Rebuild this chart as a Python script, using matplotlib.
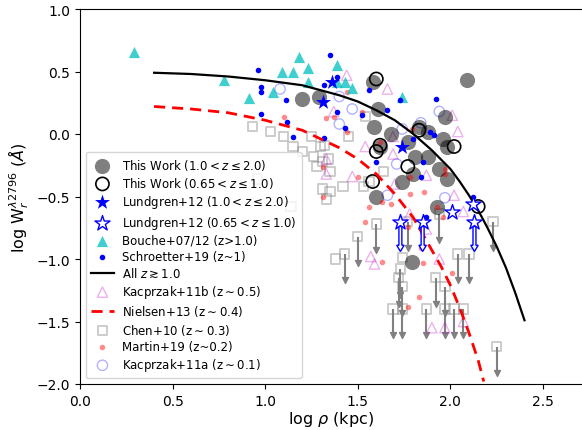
import matplotlib
matplotlib.use("Agg")
from matplotlib import pyplot as plt
import numpy as np

# This work, 1.0 < z <= 2.0 (filled grey circles)
tw_hi_x = [1.20, 1.29, 1.58, 2.09, 1.61, 1.59, 1.68, 1.62, 1.77, 1.83, 1.88, 1.97,
           1.96, 1.98, 1.81, 1.88, 1.94, 1.98, 1.74, 1.80, 1.60, 1.93, 1.79]
tw_hi_y = [0.28, 0.30, 0.42, 0.43, 0.20, 0.06, 0.00, -0.10, -0.06, 0.06, 0.02, 0.14,
           -0.04, -0.10, -0.18, -0.18, -0.28, -0.36, -0.38, -0.32, -0.50, -0.58, -1.02]

# This work, 0.65 < z <= 1.0 (open black circles)
tw_lo_x = [1.60, 1.83, 1.60, 1.62, 1.77, 2.02, 1.58, 2.15]
tw_lo_y = [0.44, 0.03, -0.14, -0.09, -0.26, -0.10, -0.38, -0.58]

# Lundgren+12
lu_hi_x = [1.36, 1.31, 1.74]
lu_hi_y = [0.42, 0.26, -0.10]
lu_lo_x = [1.73, 1.85, 2.01, 2.13, 2.12]
lu_lo_y = [-0.70, -0.70, -0.62, -0.70, -0.56]
lu_lo_uplim = [True, True, False, True, False]

# Bouche+07/12
bo_x = [0.29, 0.78, 0.91, 1.18, 1.39, 1.09, 1.15, 1.23, 1.23, 1.04, 1.39, 1.43, 1.47, 1.74]
bo_y = [0.66, 0.43, 0.29, 0.62, 0.55, 0.50, 0.50, 0.53, 0.42, 0.34, 0.42, 0.42, 0.37, 0.30]

# Schroetter+19
sc_x = [0.96, 0.98, 0.98, 1.11, 1.35, 1.32, 1.39, 1.56, 0.98, 1.12, 1.39, 1.15, 1.32,
        1.43, 1.52, 1.66, 1.73, 1.92, 1.89, 1.91, 1.80, 1.85, 1.84, 1.60, 1.87, 2.12]
sc_y = [0.51, 0.38, 0.34, 0.27, 0.63, 0.39, 0.46, 0.35, 0.16, 0.10, 0.18, -0.02, -0.03,
        0.05, 0.15, 0.19, 0.27, 0.28, 0.02, -0.01, -0.04, -0.22, -0.34, -0.22, -0.66, -0.50]

# Kacprzak+11b
k11b_x = [1.44, 1.66, 2.01, 2.04, 1.54, 1.69, 1.69, 1.87, 1.70, 2.02, 2.07, 1.78, 1.87,
          1.94, 1.57, 1.59, 1.90, 1.97, 2.07, 1.33, 1.33, 1.47, 1.37]
k11b_y = [0.47, 0.36, 0.15, 0.02, -0.10, -0.16, -0.02, -0.33, -0.40, -0.49, -0.62, -0.64, -0.76,
          -1.00, -0.98, -1.04, -1.55, -1.55, -1.50, -0.32, -0.20, -0.34, 0.18]

# Chen+10 detections and upper limits
ch_x = [0.93, 1.03, 1.10, 1.15, 1.20, 1.25, 1.26, 1.30, 1.32, 1.31, 1.34, 1.35, 1.28,
        1.31, 1.35, 1.33, 1.42, 1.45, 1.54, 1.53, 1.56, 1.64, 1.38, 1.74, 0.96, 1.14]
ch_y = [0.06, 0.02, -0.02, -0.10, -0.14, -0.02, -0.18, -0.10, -0.09, -0.22, -0.20, -0.30, -0.26,
        -0.44, -0.46, -0.52, -0.42, -0.02, 0.14, -0.42, -0.38, -0.30, -1.00, -0.99, -0.36, -0.58]
ch_ul_x = [1.60, 1.50, 1.43, 1.77, 1.94, 1.73, 1.72, 1.74, 2.04, 2.10, 1.92, 1.97,
           1.69, 1.74, 1.87, 1.97, 2.02, 2.07, 2.23, 2.25]
ch_ul_y = [-0.72, -0.82, -0.96, -0.70, -0.64, -1.08, -1.15, -1.22, -0.96, -0.96, -1.15, -1.22,
           -1.40, -1.40, -1.40, -1.40, -1.40, -1.40, -0.70, -1.70]

# Martin+19
ma_x = [1.10, 1.33, 1.37, 1.44, 1.44, 1.52, 1.62, 1.79, 1.80, 1.97, 1.97, 1.78, 1.50, 1.31, 1.31,
        1.56, 1.68, 1.63, 1.54, 1.78, 1.86, 1.93, 1.96, 1.77, 1.84, 1.85, 2.01, 1.63, 1.83, 1.77]
ma_y = [0.14, 0.13, 0.14, 0.34, 0.02, 0.18, -0.06, 0.04, -0.04, -0.28, -0.32, -0.34, -0.34, -0.26, -0.50,
        -0.58, -0.56, -0.54, -0.70, -0.48, -0.46, -0.58, -0.66, -0.74, -0.91, -1.03, -1.11, -1.02, -1.30, -1.38]

# Kacprzak+11a
k11a_x = [1.08, 1.40, 1.47, 1.40, 1.74, 1.84, 1.94, 1.71, 1.66, 1.97]
k11a_y = [0.36, 0.30, 0.20, 0.08, 0.04, 0.09, 0.18, -0.24, -0.49, -0.51]

# fitted relations
all_x = [0.40, 0.60, 0.80, 1.00, 1.20, 1.40, 1.50, 1.60, 1.70, 1.80, 1.90, 2.00,
         2.05, 2.10, 2.15, 2.20, 2.25, 2.30, 2.35, 2.40]
all_y = [0.49, 0.48, 0.46, 0.43, 0.39, 0.31, 0.26, 0.19, 0.11, 0.00, -0.13, -0.28,
         -0.38, -0.49, -0.61, -0.75, -0.90, -1.07, -1.27, -1.49]
ni_x = [0.40, 0.60, 0.80, 1.00, 1.20, 1.30, 1.40, 1.50, 1.60, 1.70, 1.80, 1.90,
        1.95, 2.00, 2.05, 2.10, 2.15, 2.18]
ni_y = [0.22, 0.20, 0.17, 0.11, 0.03, -0.04, -0.11, -0.20, -0.32, -0.48, -0.67, -0.93,
        -1.06, -1.21, -1.39, -1.59, -1.81, -1.98]

ul_len = 0.21

fig = plt.figure(figsize=(5.82, 4.31), dpi=100)
ax = fig.add_axes([80 / 582, 46 / 431, 503 / 582, 375 / 431])

# background samples
ch_ul_x = np.array(ch_ul_x)
ch_ul_y = np.array(ch_ul_y)
ax.vlines(ch_ul_x, ch_ul_y, ch_ul_y - ul_len, color='gray', lw=1.5, zorder=1)
ax.scatter(ch_ul_x, ch_ul_y - ul_len, marker='v', s=18, color='gray', zorder=1)
h_ch = ax.scatter(np.concatenate([ch_x, ch_ul_x]), np.concatenate([ch_y, ch_ul_y]),
                  marker='s', s=45, facecolors='none', edgecolors='gray', alpha=0.4,
                  linewidths=1.4, zorder=1, label=r'Chen+10 (z$\sim$0.3)')
h_k11a = ax.scatter(k11a_x, k11a_y, marker='o', s=55, facecolors='none', edgecolors='b',
                    alpha=0.3, linewidths=1.0, zorder=2, label=r'Kacprzak+11a (z$\sim$0.1)')
h_k11b = ax.scatter(k11b_x, k11b_y, marker='^', s=55, facecolors='none', edgecolors='m',
                    alpha=0.3, linewidths=1.0, zorder=2, label=r'Kacprzak+11b (z$\sim$0.5)')
h_ma = ax.scatter(ma_x, ma_y, marker='o', s=16, color='r', alpha=0.45, linewidths=0,
                  zorder=3, label='Martin+19 (z~0.2)')

# this work
h_twh = ax.scatter(tw_hi_x, tw_hi_y, marker='o', s=120, color='k', alpha=0.5, linewidths=0,
                   zorder=2, label=r'This Work (1.0$<z\leq$2.0)')
h_twl = ax.scatter(tw_lo_x, tw_lo_y, marker='o', s=90, facecolors='none', edgecolors='k',
                   linewidths=1.2, zorder=4, label=r'This Work (0.65$<z\leq$1.0)')

h_bo = ax.scatter(bo_x, bo_y, marker='^', s=65, color='c', alpha=0.75, linewidths=0,
                  zorder=4, label='Bouche+07/12 (z>1.0)')
h_sc = ax.scatter(sc_x, sc_y, marker='o', s=16, color='b', linewidths=0, zorder=5,
                  label='Schroetter+19 (z~1)')

# fits
h_all, = ax.plot(all_x, all_y, color='k', lw=1.6, zorder=5, label=r'All $z\gtrsim$1.0')
h_ni, = ax.plot(ni_x, ni_y, color='r', lw=2, ls=(0, (4, 2.5)), zorder=5,
                label=r'Nielsen+13 (z$\sim$0.4)')

# Lundgren+12
for x, y, lim in zip(lu_lo_x, lu_lo_y, lu_lo_uplim):
    if lim:
        ax.arrow(x, y - 0.04, 0, -0.2, width=0.016, head_width=0.04, head_length=0.05,
                 length_includes_head=True, fc='w', ec='b', lw=1.0, zorder=6)
h_luh = ax.scatter(lu_hi_x, lu_hi_y, marker='*', s=130, color='b', linewidths=0, zorder=7,
                   label=r'Lundgren+12 (1.0$<z\leq$2.0)')
h_lul = ax.scatter(lu_lo_x, lu_lo_y, marker='*', s=130, facecolors='w', edgecolors='b',
                   linewidths=1.0, zorder=7, label=r'Lundgren+12 (0.65$<z\leq$1.0)')

ax.set_xlim(0, 2.716)
ax.set_ylim(-2.0, 1.0)
ax.set_xticks(np.arange(0, 2.51, 0.5))
ax.set_yticks(np.arange(-2.0, 1.01, 0.5))
ax.tick_params(labelsize=10)
ax.set_xlabel(r'log $\rho$ (kpc)', fontsize=11.5, labelpad=1)
ax.set_ylabel(r'log W$_r^{\lambda 2796}$ ($\AA$)', fontsize=11.5)

handles = [h_twh, h_twl, h_luh, h_lul, h_bo, h_sc, h_all, h_k11b, h_ni, h_ch, h_ma, h_k11a]
ax.legend(handles=handles, loc='lower left', fontsize=8.5, labelspacing=0.28,
          handletextpad=0.7, borderpad=0.4)

plt.savefig('out.png', dpi=100)
